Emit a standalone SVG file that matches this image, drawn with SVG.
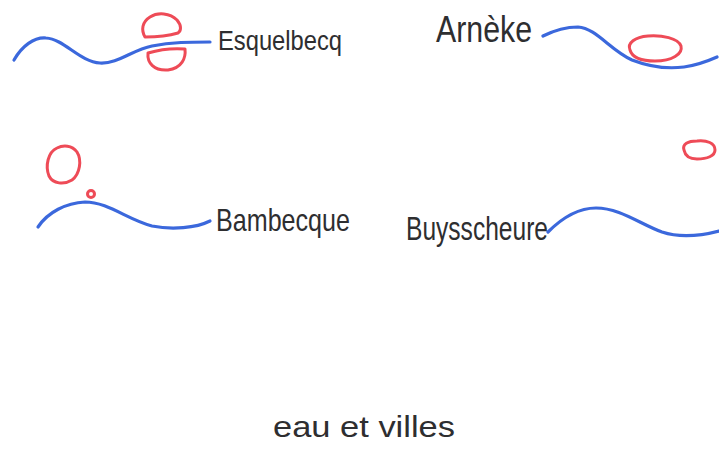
<svg xmlns="http://www.w3.org/2000/svg" width="719" height="451" viewBox="0 0 719 451">
  <style>
    .river { fill: none; stroke: #3b68dc; stroke-width: 3.2; stroke-linecap: round; stroke-linejoin: round; }
    .town { fill: none; stroke: #ee4b57; stroke-width: 3; stroke-linecap: round; stroke-linejoin: round; }
    .name { fill: #2e2e30; font-family: "Liberation Sans", Arial, sans-serif; }
  </style>
  <rect width="719" height="451" fill="#ffffff"/>

  <!-- Esquelbecq -->
  <g id="esquelbecq">
    <path class="river" d="M14,60 C22,46 34,37 46,38 C64,39 80,62 100,63 C118,64 132,50 152,46 C172,42 190,42 210,42"/>
    <path class="town" d="M145,37 C141,30 142,22 150,17 C158,12 170,13 177,20 C182,26 181,31 178,33 C168,36 156,37 145,37 Z"/>
    <path class="town" d="M148,53 C158,50 172,48 185,49 C186,58 182,68 168,70 C154,71 147,63 148,53 Z"/>
    <text class="name" x="218" y="50" font-size="28" textLength="124" lengthAdjust="spacingAndGlyphs">Esquelbecq</text>
  </g>

  <!-- Arnèke -->
  <g id="arneke">
    <path class="river" d="M543,36 C555,30 566,27 578,27 C596,28 610,50 632,60 C650,67 668,69 684,67 C698,65 708,61 717,57"/>
    <path class="town" d="M630,50 C627,43 635,37 648,36 C662,35 678,38 681,46 C683,54 672,61 655,61 C641,61 632,57 630,50 Z"/>
    <text class="name" x="436" y="42" font-size="36" textLength="96" lengthAdjust="spacingAndGlyphs">Arnèke</text>
  </g>

  <!-- Bambecque -->
  <g id="bambecque">
    <path class="river" d="M38,227 C48,212 66,203 85,202 C108,202 128,220 152,226 C172,230 196,228 210,221"/>
    <path class="town" d="M57,148 C48,152 45,166 49,176 C53,184 64,185 72,180 C80,174 82,160 77,152 C72,145 63,145 57,148 Z"/>
    <circle class="town" cx="91" cy="194" r="3.5" stroke-width="2"/>
    <text class="name" x="216" y="231" font-size="32" textLength="134" lengthAdjust="spacingAndGlyphs">Bambecque</text>
  </g>

  <!-- Buysscheure -->
  <g id="buysscheure">
    <path class="river" d="M548,232 C562,218 578,208 596,208 C620,208 640,224 662,232 C680,238 700,236 719,231"/>
    <path class="town" d="M684,150 C682,144 688,141 697,141 C707,140 715,143 715,150 C715,156 707,159 697,159 C689,159 685,155 684,150 Z"/>
    <text class="name" x="406" y="240" font-size="34" textLength="142" lengthAdjust="spacingAndGlyphs">Buysscheure</text>
  </g>

  <!-- title -->
  <g id="title">
    <text class="name" x="273" y="437" font-size="29" textLength="182" lengthAdjust="spacingAndGlyphs">eau et villes</text>
  </g>
</svg>
